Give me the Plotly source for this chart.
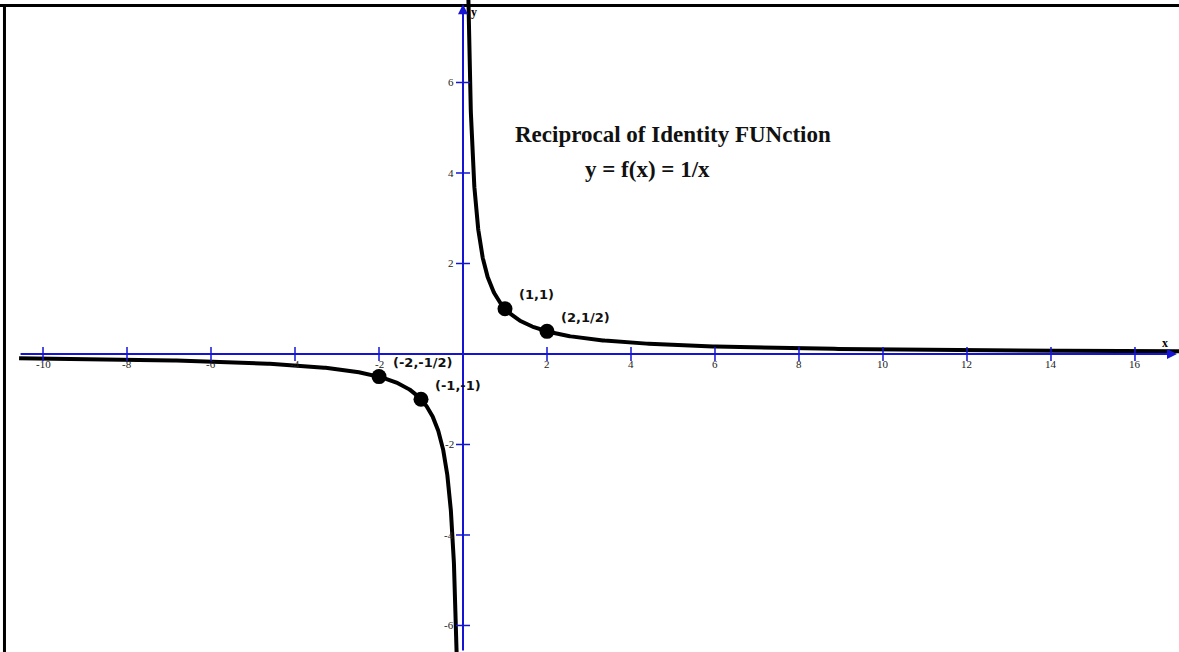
import numpy as np
import plotly.graph_objects as go

# ---- data ----
x_ticks = [-10, -8, -6, -4, -2, 2, 4, 6, 8, 10, 12, 14, 16]
y_ticks = [-6, -4, -2, 2, 4, 6]
point_x = [1, 2, -2, -1]
point_y = [1, 0.5, -0.5, -1]
point_labels = ["(1,1)", "(2,1/2)", "(-2,-1/2)", "(-1,-1)"]
title_line1 = "Reciprocal of Identity FUNction"
title_line2 = "y = f(x) = 1/x"

X_RANGE = [-11.024, 17.048]
Y_RANGE = [-6.586, 7.823]
X_START = -10.57  # where the drawn axis and curve begin on the left

# curve of the plotted function y = 1/x
x_right = np.geomspace(0.125, 17.2, 400)
x_left = -np.geomspace(0.15, -X_START, 400)[::-1]

AXIS_BLUE = "rgb(20,20,210)"

fig = go.Figure()

# curve branches
for xs in (x_left, x_right):
    fig.add_trace(go.Scatter(x=xs, y=1.0 / xs, mode="lines",
                             line=dict(color="black", width=4),
                             hoverinfo="skip", showlegend=False))

# tick marks
fig.add_trace(go.Scatter(x=x_ticks, y=[0] * len(x_ticks), mode="markers",
                         marker=dict(symbol="line-ns", size=10,
                                     line=dict(color=AXIS_BLUE, width=1.5)),
                         showlegend=False, hoverinfo="skip"))
fig.add_trace(go.Scatter(x=[0] * len(y_ticks), y=y_ticks, mode="markers",
                         marker=dict(symbol="line-ew", size=10,
                                     line=dict(color=AXIS_BLUE, width=1.5)),
                         showlegend=False, hoverinfo="skip"))

# labelled points
fig.add_trace(go.Scatter(x=point_x, y=point_y, mode="markers",
                         marker=dict(color="black", size=15),
                         showlegend=False, hoverinfo="skip"))

annotations = []
# axes with arrows
annotations.append(dict(x=17.0, y=0, ax=X_START, ay=0, xref="x", yref="y",
                        axref="x", ayref="y", text="", showarrow=True,
                        arrowhead=2, arrowsize=1, arrowwidth=2,
                        arrowcolor=AXIS_BLUE, standoff=0, startstandoff=0))
annotations.append(dict(x=0, y=7.73, ax=0, ay=Y_RANGE[0], xref="x", yref="y",
                        axref="x", ayref="y", text="", showarrow=True,
                        arrowhead=2, arrowsize=1, arrowwidth=2,
                        arrowcolor=AXIS_BLUE, standoff=0, startstandoff=0))

tick_font = dict(family="Liberation Serif", size=11, color="#222222")
for t in x_ticks:
    annotations.append(dict(x=t, y=0, xref="x", yref="y", text=str(t),
                            showarrow=False, yshift=-10, font=tick_font,
                            xanchor="center", yanchor="middle"))
for t in y_ticks:
    annotations.append(dict(x=0, y=t, xref="x", yref="y", text=str(t),
                            showarrow=False, xshift=-7, font=tick_font,
                            xanchor="right", yanchor="middle"))

# axis names
annotations.append(dict(x=16.72, y=0, xref="x", yref="y", text="<b>x</b>",
                        showarrow=False, yshift=11,
                        font=dict(family="Liberation Serif", size=12, color="black")))
annotations.append(dict(x=0, y=7.55, xref="x", yref="y", text="<b>y</b>",
                        showarrow=False, xshift=11,
                        font=dict(family="Liberation Serif", size=12, color="black")))

# point labels
for px, py, lab in zip(point_x, point_y, point_labels):
    annotations.append(dict(x=px, y=py, xref="x", yref="y", text="<b>" + lab + "</b>",
                            showarrow=False, xanchor="left", yanchor="middle",
                            xshift=12, yshift=14,
                            font=dict(family="DejaVu Sans", size=13, color="#111111")))

# title text
annotations.append(dict(x=0.5712, y=0.793, xref="paper", yref="paper",
                        text="<b>" + title_line1 + "</b>", showarrow=False,
                        xanchor="center", yanchor="middle",
                        font=dict(family="Liberation Serif", size=23, color="#111111")))
annotations.append(dict(x=0.5492, y=0.7393, xref="paper", yref="paper",
                        text="<b>" + title_line2 + "</b>", showarrow=False,
                        xanchor="center", yanchor="middle",
                        font=dict(family="Liberation Serif", size=23, color="#111111")))

shapes = [
    dict(type="line", xref="paper", yref="paper", x0=0, x1=1, y0=0.9915, y1=0.9915,
         line=dict(color="black", width=3)),
    dict(type="line", xref="paper", yref="paper", x0=0.0038, x1=0.0038, y0=0, y1=0.9915,
         line=dict(color="black", width=3)),
]

fig.update_layout(
    width=1179, height=652,
    margin=dict(l=0, r=0, t=0, b=0),
    paper_bgcolor="white", plot_bgcolor="white",
    xaxis=dict(range=X_RANGE, visible=False, fixedrange=True),
    yaxis=dict(range=Y_RANGE, visible=False, fixedrange=True),
    annotations=annotations, shapes=shapes,
    showlegend=False,
)

fig.write_html("out.html",
               config={"displayModeBar": False, "staticPlot": True},
               post_script="document.body.style.margin='0px';"
                           "document.body.style.overflow='hidden';")
